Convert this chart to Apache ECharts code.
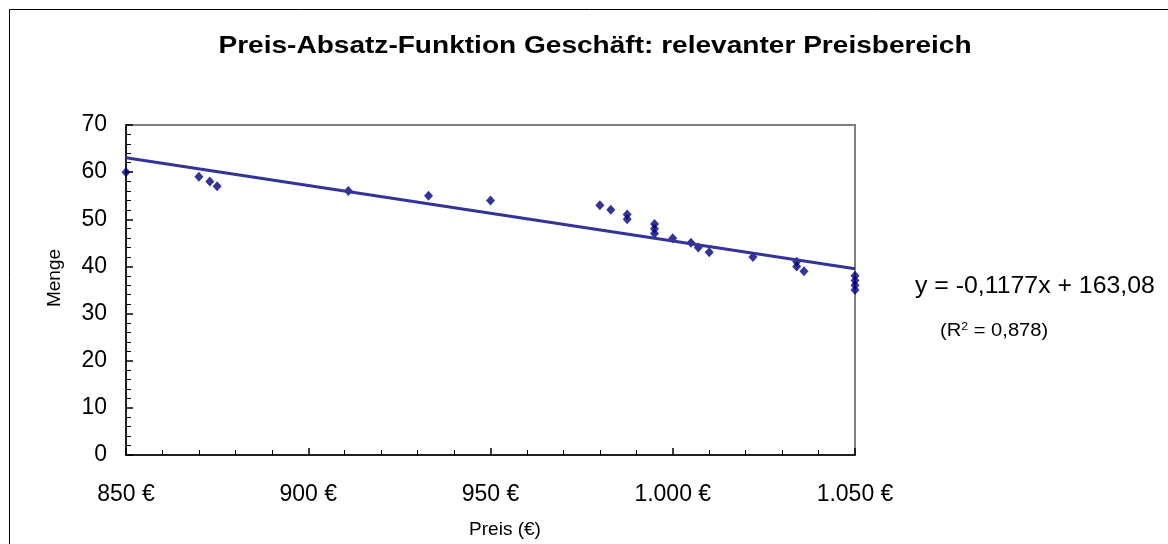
<!DOCTYPE html>
<html>
<head>
<meta charset="utf-8">
<script src="https://cdn.jsdelivr.net/npm/echarts@6/dist/echarts.min.js"></script>
<style>
  html, body { margin: 0; padding: 0; background: #fff; }
  #chart { width: 1168px; height: 544px; }
</style>
</head>
<body>
<div id="chart"></div>
<script>
// Observed price / quantity pairs
const price = [850, 870, 873, 875, 911, 933, 950, 980, 983, 987.5, 987.5, 995, 995, 995,
               1000, 1005, 1007, 1010, 1022, 1034, 1034, 1036, 1050, 1050, 1050, 1050];
const quantity = [60, 59, 58, 57, 56, 55, 54, 53, 52, 51, 50, 49, 48, 47,
                  46, 45, 44, 43, 42, 41, 40, 39, 38, 37, 36, 35];

// Linear trend (as stated in the equation label)
const slope = -0.1177;
const intercept = 163.08;
const rSquared = '0,878';
const trendRange = [850, 1050];

const titleText = 'Preis-Absatz-Funktion Geschäft: relevanter Preisbereich';
const xName = 'Preis (€)';
const yName = 'Menge';

const points = price.map((p, i) => [p, quantity[i]]);
const trend = trendRange.map(x => [x, slope * x + intercept]);

function fmtEuro(v) {
  const s = Math.round(v).toString().replace(/\B(?=(\d{3})+(?!\d))/g, '.');
  return s + ' €';
}
function fmtDe(v, digits) {
  return v.toFixed(digits).replace('.', ',');
}

const FONT = '"Liberation Sans", Arial, sans-serif';
const chart = echarts.init(document.getElementById('chart'), null, { renderer: 'canvas' });

chart.setOption({
  animation: false,
  backgroundColor: '#fff',
  textStyle: { fontFamily: FONT },
  grid: {
    left: 126, top: 125, right: 313, bottom: 89,
    show: true, borderColor: '#808080', borderWidth: 2, backgroundColor: 'transparent'
  },
  graphic: [
    {
      type: 'rect', silent: true, z: 0,
      shape: { x: 9.5, y: 9.5, width: 1300, height: 700 },
      style: { fill: 'none', stroke: '#000', lineWidth: 1 }
    },
    {
      // chart title, slightly widened
      type: 'text', x: 595, y: 47, scaleX: 1.22, z: 10,
      style: {
        text: titleText, font: 'bold 23px ' + FONT, fill: '#000',
        align: 'center', verticalAlign: 'middle'
      }
    },
    {
      type: 'text', x: 505, y: 530, z: 10,
      style: {
        text: xName, font: '19px ' + FONT, fill: '#000',
        align: 'center', verticalAlign: 'middle'
      }
    },
    {
      type: 'text', x: 55, y: 278, rotation: Math.PI / 2, z: 10,
      style: {
        text: yName, font: '19px ' + FONT, fill: '#000',
        align: 'center', verticalAlign: 'middle'
      }
    },
    {
      type: 'text', x: 915, y: 287, scaleX: 1.08, z: 10,
      style: {
        text: 'y = ' + fmtDe(slope, 4) + 'x + ' + fmtDe(intercept, 2),
        font: '23px ' + FONT, fill: '#000', align: 'left', verticalAlign: 'middle'
      }
    },
    {
      type: 'text', x: 940, y: 331, scaleX: 1.12, z: 10,
      style: {
        text: '(R{sup|2} = ' + rSquared + ')',
        font: '18px ' + FONT, fill: '#000', align: 'left', verticalAlign: 'middle',
        rich: { sup: { fontSize: 11, fontFamily: FONT, padding: [0, 0, 9, 0] } }
      }
    }
  ],
  xAxis: {
    type: 'value', min: 850, max: 1050, interval: 50,
    axisLine: { show: true, lineStyle: { color: '#000', width: 1.5 } },
    axisTick: { show: true, inside: true, length: 7, lineStyle: { color: '#000', width: 1.5 } },
    minorTick: { show: true, splitNumber: 5, length: 5, lineStyle: { color: '#000', width: 1 } },
    splitLine: { show: false },
    axisLabel: { margin: 28, fontFamily: FONT, fontSize: 23, color: '#000', formatter: fmtEuro }
  },
  yAxis: {
    type: 'value', min: 0, max: 70, interval: 10,
    axisLine: { show: true, lineStyle: { color: '#000', width: 1.5 } },
    axisTick: { show: true, inside: true, length: 7, lineStyle: { color: '#000', width: 1.5 } },
    minorTick: { show: true, splitNumber: 5, length: 5, lineStyle: { color: '#000', width: 1 } },
    splitLine: { show: false },
    axisLabel: { margin: 19, fontFamily: FONT, fontSize: 23, color: '#000' }
  },
  series: [
    {
      name: 'Menge', type: 'scatter', data: points, z: 2,
      symbol: 'diamond', symbolSize: [9, 10],
      itemStyle: { color: '#000080' }
    },
    {
      name: 'Trend', type: 'line', data: trend, z: 3,
      symbol: 'none', lineStyle: { color: '#333399', width: 3 }
    }
  ]
});
</script>
</body>
</html>
